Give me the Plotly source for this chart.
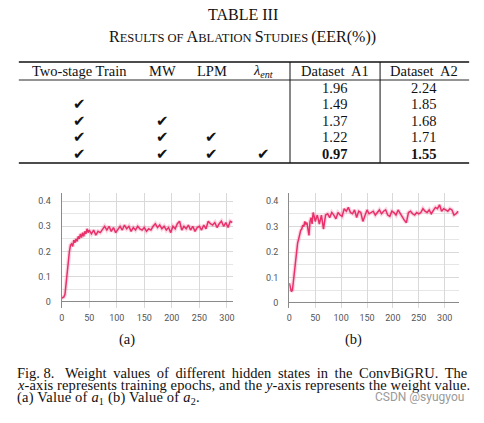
import plotly.graph_objects as go

W, H = 484, 423

# ---------------- data ----------------
table_title = "TABLE III"
col_headers = ["Two-stage Train", "MW", "LPM", "λ_ent", "Dataset&nbsp; A1", "Dataset&nbsp; A2"]
two_stage = [False, True, True, True, True]
mw = [False, False, True, True, True]
lpm = [False, False, False, True, True]
lam_ent = [False, False, False, False, True]
eer_a1 = [1.96, 1.49, 1.37, 1.22, 0.97]
eer_a2 = [2.24, 1.85, 1.68, 1.71, 1.55]

a1_epochs = [0, 2, 4, 6, 8, 10, 12, 14, 16, 18, 20, 22, 24, 26, 28, 30, 32, 34, 36, 38, 40, 42, 44, 46, 48, 50,
             54, 58, 62, 66, 70, 74, 78, 82, 86, 90, 94, 98, 102, 106, 110, 114, 118, 122, 126, 130, 134, 138,
             142, 146, 150, 154, 158, 162, 166, 170, 174, 178, 182, 186, 190, 194, 198, 202, 206, 210, 214, 218,
             222, 226, 230, 234, 238, 242, 246, 250, 254, 258, 262, 266, 270, 274, 278, 282, 286, 290, 294, 298,
             302, 306, 310]
a1_values = [0.015, 0.018, 0.02, 0.03, 0.08, 0.13, 0.17, 0.20, 0.225, 0.23, 0.22, 0.245, 0.235, 0.25, 0.24, 0.26,
             0.25, 0.27, 0.255, 0.275, 0.26, 0.28, 0.27, 0.29, 0.275, 0.285,
             0.27, 0.285, 0.265, 0.28, 0.275, 0.29, 0.30, 0.285, 0.30, 0.28, 0.295, 0.275, 0.29, 0.30, 0.285,
             0.305, 0.29, 0.30, 0.28, 0.295, 0.285, 0.30, 0.29, 0.285, 0.295, 0.28, 0.29, 0.285, 0.30, 0.31,
             0.295, 0.305, 0.29, 0.30, 0.285, 0.295, 0.275, 0.30, 0.29, 0.31, 0.32, 0.285, 0.30, 0.29, 0.305,
             0.285, 0.30, 0.28, 0.295, 0.30, 0.285, 0.305, 0.29, 0.32, 0.31, 0.305, 0.315, 0.295, 0.31, 0.32,
             0.30, 0.315, 0.295, 0.32, 0.315]

a2_epochs = [0, 2, 4, 6, 8, 10, 12, 14, 16, 18, 20, 22, 24, 26, 28, 30, 32, 34, 36, 38, 40, 42, 44, 46, 48, 50,
             54, 58, 62, 66, 70, 74, 78, 82, 86, 90, 94, 98, 102, 106, 110, 114, 118, 122, 126, 130, 134, 138,
             142, 146, 150, 154, 158, 162, 166, 170, 174, 178, 182, 186, 190, 194, 198, 202, 206, 210, 214, 218,
             222, 226, 230, 234, 238, 242, 246, 250, 254, 258, 262, 266, 270, 274, 278, 282, 286, 290, 294, 298,
             302, 306, 310, 314, 318, 322, 326]
a2_values = [0.078, 0.06, 0.045, 0.05, 0.09, 0.14, 0.18, 0.21, 0.235, 0.25, 0.27, 0.285, 0.29, 0.305, 0.30, 0.32,
             0.31, 0.315, 0.29, 0.265, 0.32, 0.335, 0.31, 0.355, 0.34, 0.32,
             0.345, 0.31, 0.345, 0.29, 0.345, 0.35, 0.335, 0.355, 0.345, 0.33, 0.355, 0.345, 0.34, 0.37, 0.36,
             0.375, 0.355, 0.35, 0.365, 0.335, 0.36, 0.355, 0.32, 0.34, 0.365, 0.35, 0.355, 0.36, 0.345, 0.355,
             0.365, 0.35, 0.36, 0.365, 0.345, 0.34, 0.36, 0.355, 0.345, 0.365, 0.35, 0.34, 0.325, 0.315, 0.355,
             0.36, 0.35, 0.345, 0.355, 0.35, 0.355, 0.37, 0.36, 0.355, 0.365, 0.35, 0.365, 0.375, 0.37, 0.385,
             0.36, 0.37, 0.365, 0.36, 0.37, 0.365, 0.345, 0.35, 0.36]

x_ticks = [0, 50, 100, 150, 200, 250, 300]
y_ticks = [0, 0.1, 0.2, 0.3, 0.4]
y_tick_labels = ["0", "0.1", "0.2", "0.3", "0.4"]
caption_fig = "Fig. 8."
caption_lines = [
    "Weight values of different hidden states in the ConvBiGRU. The",
    "<i>x</i>-axis represents training epochs, and the <i>y</i>-axis represents the weight value.",
    "(a) Value of <i>a</i><sub>1</sub> (b) Value of <i>a</i><sub>2</sub>.",
]

# ---------------- helpers ----------------
def X(px):
    return px / W

def Y(py):
    return 1 - py / H

SERIF = "Liberation Serif"
LINE = "#e8306b"
HALO = "rgba(236, 64, 122, 0.22)"

fig = go.Figure()

for i, (xs, ys) in enumerate([(a1_epochs, a1_values), (a2_epochs, a2_values)]):
    xa = "x" if i == 0 else "x2"
    ya = "y" if i == 0 else "y2"
    fig.add_trace(go.Scatter(x=xs, y=ys, mode="lines", line=dict(color=HALO, width=4),
                             xaxis=xa, yaxis=ya, hoverinfo="skip", showlegend=False))
    fig.add_trace(go.Scatter(x=xs, y=ys, mode="lines", line=dict(color=LINE, width=1.5),
                             xaxis=xa, yaxis=ya, showlegend=False))

tickfont = dict(family="Roboto", size=9, color="#555")

def xaxis_cfg(dom, rng, anchor):
    return dict(domain=dom, range=rng, tickvals=x_ticks, ticktext=[str(t) for t in x_ticks], anchor=anchor,
                showgrid=True, gridcolor="#d9d9d9", gridwidth=1, zeroline=False, showline=False,
                ticks="", tickfont=tickfont, ticklabelstandoff=3, fixedrange=True)

def yaxis_cfg(dom, rng, anchor):
    return dict(domain=dom, range=rng, tickvals=y_ticks, ticktext=y_tick_labels, anchor=anchor,
                showgrid=True, gridcolor="#d9d9d9", gridwidth=1,
                minor=dict(dtick=0.05, tick0=0, showgrid=True, gridcolor="#e6e6e6", gridwidth=1),
                zeroline=True, zerolinecolor="#8a8a8a", zerolinewidth=1.2,
                showline=True, linecolor="#8a8a8a", linewidth=1.2,
                ticks="", tickfont=tickfont, ticklabelstandoff=8, fixedrange=True)

ydom = [Y(308), Y(193)]
fig.update_layout(
    xaxis=xaxis_cfg([X(59.3), X(232)], [0, 310.3], "y"),
    yaxis=yaxis_cfg(ydom, [-0.024, 0.432], "x"),
    xaxis2=xaxis_cfg([X(289.3), X(460.7)], [0, 327.5], "y2"),
    yaxis2=yaxis_cfg(ydom, [-0.0197, 0.4315], "x2"),
)

annotations = []
shapes = []

def txt(px, py, text, size, family=SERIF, xanchor="center", color="#111"):
    annotations.append(dict(x=X(px), y=Y(py), xref="paper", yref="paper", text=text, showarrow=False,
                            xanchor=xanchor, yanchor="middle", font=dict(family=family, size=size, color=color)))

# table title
txt(242, 14, table_title, 16)
sc = "font-size:12.5px"
txt(242, 37, f"R<span style='{sc}'>ESULTS OF </span>A<span style='{sc}'>BLATION </span>"
             f"S<span style='{sc}'>TUDIES </span>(EER(%))", 16)

# table rules
def hline(py, x0, x1, w=1.2):
    shapes.append(dict(type="line", xref="paper", yref="paper", x0=X(x0), x1=X(x1), y0=Y(py), y1=Y(py),
                       line=dict(color="#111", width=w)))

def vline(px, y0, y1, w=1):
    shapes.append(dict(type="line", xref="paper", yref="paper", x0=X(px), x1=X(px), y0=Y(y0), y1=Y(y1),
                       line=dict(color="#111", width=w)))

hline(62, 16, 471, 1.3)
hline(80, 16, 471, 0.9)
hline(163, 16, 471, 1.3)
vline(290, 62, 163)
vline(381, 62, 163)

col_x = [77, 161, 211, 263, 335, 425]
header_y = 71
row_y = [88, 104.5, 120.5, 137, 153.5]

for cx, h in zip(col_x, col_headers):
    if h == "λ_ent":
        txt(cx, header_y, "<i>λ<sub>ent</sub></i>", 14.5)
    else:
        txt(cx, header_y, h, 14.5)

check_cols = [two_stage, mw, lpm, lam_ent]
best_a1 = min(eer_a1)
best_a2 = min(eer_a2)
for r in range(len(eer_a1)):
    for c, col in enumerate(check_cols):
        if col[r]:
            txt(col_x[c], row_y[r], "✔", 15, family="DejaVu Sans")
    v1 = f"{eer_a1[r]:.2f}"
    v2 = f"{eer_a2[r]:.2f}"
    txt(col_x[4], row_y[r], f"<b>{v1}</b>" if eer_a1[r] == best_a1 else v1, 14.5)
    txt(col_x[5], row_y[r], f"<b>{v2}</b>" if eer_a2[r] == best_a2 else v2, 14.5)

# subfigure labels
txt(125.5, 339, "(a)", 14.5)
txt(354.5, 339, "(b)", 14.5)

# caption
cap_y = [372.5, 385, 397.5]
txt(12, cap_y[0], caption_fig, 14.5, xanchor="left")
txt(471, cap_y[0], f"<span style='word-spacing:3px'>{caption_lines[0]}</span>", 14.5, xanchor="right")
txt(12, cap_y[1], f"<span style='letter-spacing:0.12px'>{caption_lines[1]}</span>", 14.5, xanchor="left")
txt(12, cap_y[2], f"<span style='letter-spacing:0.2px'>{caption_lines[2]}</span>", 14.5, xanchor="left")
txt(468, 397, "CSDN @syugyou", 12, family="Roboto", xanchor="right", color="#9a9a9a")

fig.update_layout(
    width=W, height=H, margin=dict(l=0, r=0, t=0, b=0),
    paper_bgcolor="white", plot_bgcolor="white",
    annotations=annotations, shapes=shapes, showlegend=False,
)

fig.write_html("out.html", config={"displayModeBar": False},
               post_script="document.body.style.margin='0';document.body.style.overflow='hidden';")
